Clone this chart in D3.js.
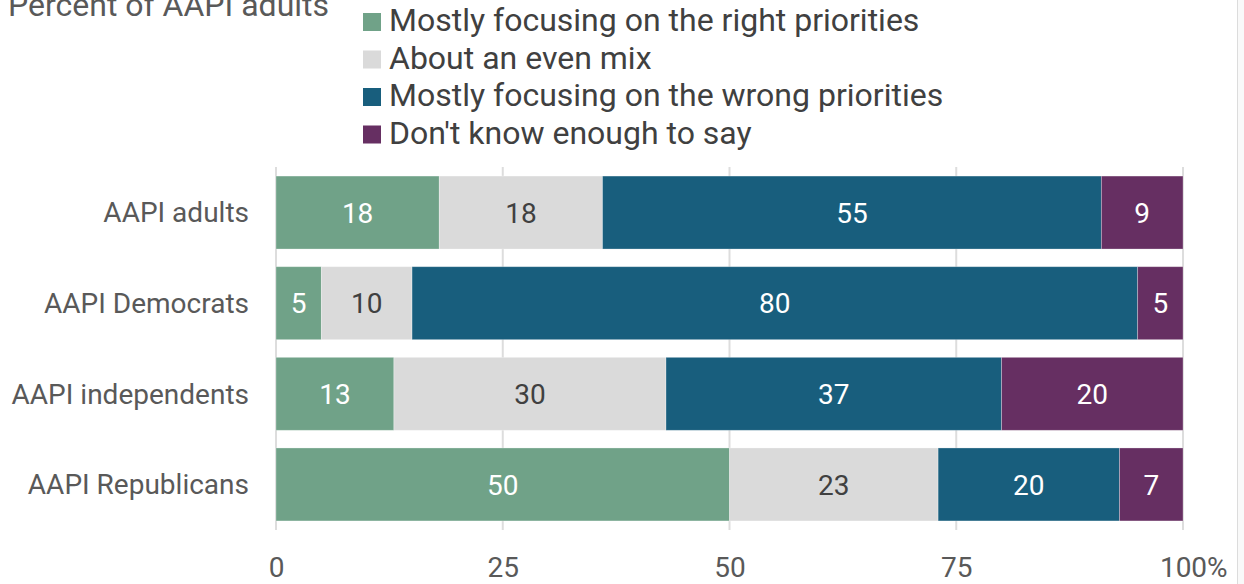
<!DOCTYPE html>
<html>
<head>
<meta charset="utf-8">
<script src="https://cdn.jsdelivr.net/npm/d3@7"></script>
<style>
  body { margin: 0; background: #fff; }
  svg { display: block; font-family: Roboto, "Noto Sans", sans-serif; }
</style>
</head>
<body>
<svg id="chart" width="1244" height="584"></svg>
<script>
var groups = ["AAPI adults", "AAPI Democrats", "AAPI independents", "AAPI Republicans"];
var series = ["Mostly focusing on the right priorities", "About an even mix",
              "Mostly focusing on the wrong priorities", "Don't know enough to say"];
var rightPriorities = [18, 5, 13, 50];
var evenMix = [18, 10, 30, 23];
var wrongPriorities = [55, 80, 37, 20];
var dontKnow = [9, 5, 20, 7];
var xTicks = [0, 25, 50, 75, 100];

var colors = ["#70a288", "#dadada", "#185e7d", "#662f62"];
var textColors = ["#fff", "#404040", "#fff", "#fff"];

var canvas = d3.select("#chart"),
    margins = {"left": 276, "right": 61, "top": 167, "bottom": 54},
    width = 1244, height = 584;

var rows = groups.map((g, i) => ({
    group: g,
    values: [rightPriorities[i], evenMix[i], wrongPriorities[i], dontKnow[i]]
}));
var stacked = d3.stack().keys(d3.range(4)).value((d, k) => d.values[k])(rows);

var x = d3.scaleLinear().domain([0, 100]).range([margins.left, width - margins.right]),
    y = d3.scaleBand().domain(groups).range([margins.top, height - margins.bottom])
        .paddingInner(0.195).paddingOuter(0.1);

// right edge frame
canvas.append("rect").attr("x", 1238).attr("y", 0).attr("width", 6).attr("height", height).attr("fill", "#f9f9f9");
canvas.append("line").attr("x1", 1237.5).attr("x2", 1237.5).attr("y1", 0).attr("y2", height)
    .attr("stroke", "#dcdcdc").attr("stroke-width", 1);

// title (cut off at the top edge in the original)
canvas.append("text").attr("x", 8).attr("y", 16).text("Percent of AAPI adults")
    .style("font-size", "32px").attr("fill", "#595959");

// legend
var legend = canvas.append("g").attr("transform", "translate(363,0)");
series.forEach((s, i) => {
    var ly = 31 + i * 37.5;
    legend.append("rect").attr("x", 0).attr("y", ly - 18).attr("width", 18).attr("height", 18).attr("fill", colors[i]);
    legend.append("text").attr("x", 26).attr("y", ly).text(s)
        .style("font-size", "32px").attr("fill", "#404040");
});

// gridlines
canvas.append("g").selectAll("line").data(xTicks).enter().append("line")
    .attr("x1", d => x(d)).attr("x2", d => x(d))
    .attr("y1", margins.top).attr("y2", height - margins.bottom)
    .attr("stroke", "#dddddd").attr("stroke-width", 2);

// x axis
var xaxis = canvas.append("g").attr("transform", "translate(0," + (height - margins.bottom) + ")")
    .call(d3.axisBottom(x).tickValues(xTicks).tickSize(0).tickPadding(0)
        .tickFormat(d => d === 100 ? "100%" : d));
xaxis.select(".domain").remove();
xaxis.selectAll("text").attr("y", 47).attr("dy", null)
    .style("font-size", "28px").style("font-family", "Roboto, sans-serif").attr("fill", "#595959");
// the % sign hangs off the last tick, the number itself stays centred
xaxis.selectAll("text").filter(d => d === 100).each(function() {
    var t = d3.select(this);
    t.text("100");
    var w = this.getComputedTextLength();
    t.attr("text-anchor", "start").attr("x", -w / 2).text("100%");
});

// category labels
canvas.append("g").selectAll("text").data(groups).enter().append("text")
    .attr("x", 249).attr("y", d => y(d) + y.bandwidth() / 2).attr("dy", "0.35em")
    .attr("text-anchor", "end").text(d => d)
    .style("font-size", "28px").attr("fill", "#595959");

// bars
var layers = canvas.append("g").selectAll("g").data(stacked).enter().append("g");
layers.selectAll("rect").data(d => d.map(p => ({p: p, k: d.key}))).enter().append("rect")
    .attr("x", d => x(d.p[0])).attr("y", d => y(d.p.data.group))
    .attr("width", d => x(d.p[1]) - x(d.p[0])).attr("height", y.bandwidth())
    .attr("fill", d => colors[d.k])
    .attr("stroke", "rgba(255,255,255,0.35)").attr("stroke-width", 0.8);

layers.selectAll("text").data(d => d.map(p => ({p: p, k: d.key}))).enter().append("text")
    .attr("x", d => (x(d.p[0]) + x(d.p[1])) / 2)
    .attr("y", d => y(d.p.data.group) + y.bandwidth() / 2).attr("dy", "0.36em")
    .attr("text-anchor", "middle").text(d => d.p[1] - d.p[0])
    .style("font-size", "28px").attr("fill", d => textColors[d.k]);
</script>
</body>
</html>
